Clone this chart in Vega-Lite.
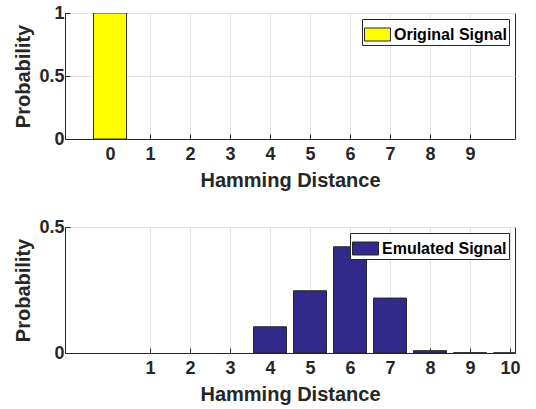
{
  "$schema": "https://vega.github.io/schema/vega-lite/v6.json",
  "background": "white",
  "padding": {"left": 13, "top": 3, "right": 5, "bottom": 2},
  "spacing": 26,
  "config": {
    "font": "Liberation Sans",
    "view": {"stroke": "#262626", "strokeWidth": 1},
    "axis": {
      "labelFont": "Liberation Sans",
      "labelFontWeight": "bold",
      "labelFontSize": 18,
      "labelColor": "#262626",
      "titleFont": "Liberation Sans",
      "titleFontWeight": "bold",
      "titleFontSize": 20,
      "titleColor": "#262626",
      "domainColor": "#262626",
      "tickColor": "#262626",
      "tickSize": -5,
      "gridColor": "#e3e3e3",
      "gridWidth": 1,
      "grid": true
    },
    "axisX": {"labelPadding": 11, "titlePadding": 7},
    "axisY": {"labelPadding": 6, "titlePadding": 5},
    "legend": {
      "orient": "top-right",
      "offset": 6,
      "title": null,
      "strokeColor": "#262626",
      "fillColor": "white",
      "padding": 2,
      "symbolType": "M-1,-0.5H1V0.5H-1Z",
      "symbolSize": 676,
      "symbolStrokeColor": "#262626",
      "symbolStrokeWidth": 1,
      "labelFont": "Liberation Sans",
      "labelFontSize": 16,
      "labelFontWeight": "bold",
      "labelColor": "#000000",
      "labelOffset": 3
    }
  },
  "vconcat": [
    {
      "width": 450,
      "height": 126,
      "data": {"values": [
        {"distance": 0, "probability": 1, "series": "Original Signal"}
      ]},
      "mark": {"type": "bar", "width": 33, "stroke": "#333333", "strokeWidth": 1, "clip": true},
      "encoding": {
        "x": {"field": "distance", "type": "quantitative",
              "scale": {"domain": [-1, 10], "nice": false, "zero": false},
              "axis": {"values": [0, 1, 2, 3, 4, 5, 6, 7, 8, 9], "title": "Hamming Distance"}},
        "y": {"field": "probability", "type": "quantitative",
              "scale": {"domain": [0, 1], "nice": false},
              "axis": {"values": [0, 0.5, 1], "format": "~g", "title": "Probability"}},
        "fill": {"field": "series", "type": "nominal",
                 "scale": {"range": ["#ffff00"]}}
      }
    },
    {
      "width": 450,
      "height": 126,
      "data": {"values": [
        {"distance": 4, "probability": 0.104, "series": "Emulated Signal"},
        {"distance": 5, "probability": 0.247, "series": "Emulated Signal"},
        {"distance": 6, "probability": 0.4215, "series": "Emulated Signal"},
        {"distance": 7, "probability": 0.218, "series": "Emulated Signal"},
        {"distance": 8, "probability": 0.0093, "series": "Emulated Signal"},
        {"distance": 9, "probability": 0.001, "series": "Emulated Signal"},
        {"distance": 10, "probability": 0.0005, "series": "Emulated Signal"}
      ]},
      "mark": {"type": "bar", "width": 33, "stroke": "#262626", "strokeWidth": 1, "clip": true},
      "encoding": {
        "x": {"field": "distance", "type": "quantitative",
              "scale": {"domain": [-1, 10], "nice": false, "zero": false},
              "axis": {"values": [1, 2, 3, 4, 5, 6, 7, 8, 9, 10], "title": "Hamming Distance"}},
        "y": {"field": "probability", "type": "quantitative",
              "scale": {"domain": [0, 0.5], "nice": false},
              "axis": {"values": [0, 0.5], "format": "~g", "title": "Probability"}},
        "fill": {"field": "series", "type": "nominal",
                 "scale": {"range": ["#32298a"]}}
      }
    }
  ],
  "resolve": {"scale": {"fill": "independent"}, "legend": {"fill": "independent"}}
}
